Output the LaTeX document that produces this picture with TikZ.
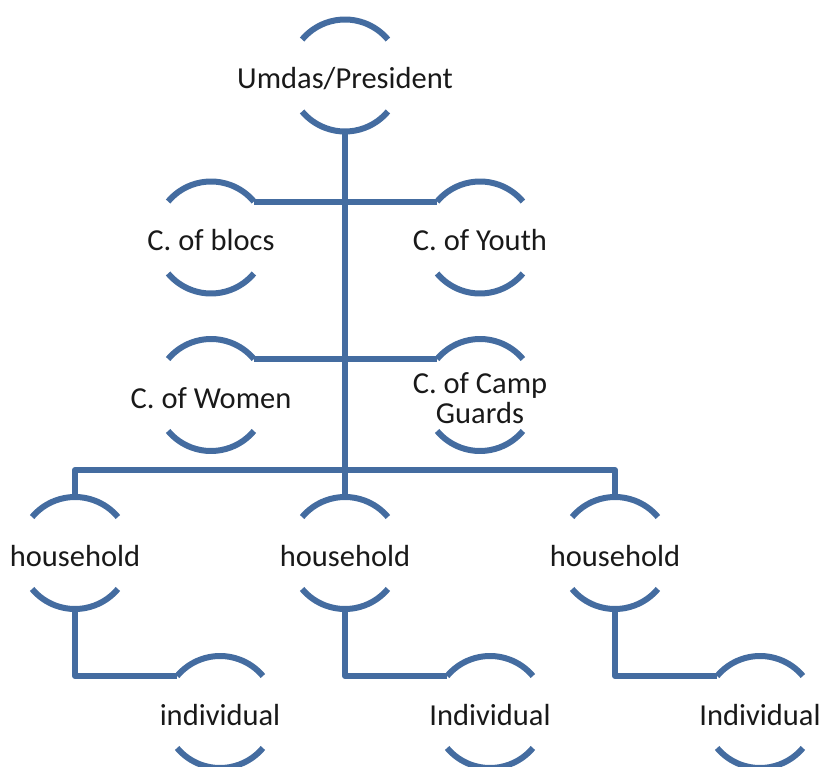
\documentclass[tikz,border=0pt]{standalone}
\usepackage{fontspec}
\setmainfont{Carlito}
\usetikzlibrary{calc}
\definecolor{lineblue}{RGB}{68,108,160}
\begin{document}
\begin{tikzpicture}[x=1pt,y=1pt,
  ring/.style={circle, minimum size=112pt, inner sep=0pt, outer sep=0pt},
  every label/.style={font=\fontsize{30.5}{30}\selectfont, text=black!90, align=center, inner sep=0pt, yshift=-3pt},
  link/.style={draw=lineblue, line width=6pt, line join=round}]
\useasboundingbox (0,0) rectangle (822,-767);
\node[ring, label={center:Umdas/President}] (top) at (345,-75.5) {};
\node[ring, label={center:C. of blocs}] (blocs) at (211,-237.5) {};
\node[ring, label={center:C. of Youth}] (youth) at (480,-237.5) {};
\node[ring, label={center:C. of Women}] (women) at (211,-395) {};
\node[ring, label={center:C. of Camp\\Guards}] (guards) at (480,-395) {};
\node[ring, label={center:household}] (hh1) at (75,-553) {};
\node[ring, label={center:household}] (hh2) at (345,-553) {};
\node[ring, label={center:household}] (hh3) at (615,-553) {};
\node[ring, label={center:individual}] (ind1) at (220,-712) {};
\node[ring, label={center:Individual}] (ind2) at (490,-712) {};
\node[ring, label={center:Individual}] (ind3) at (760,-712) {};
\foreach \n in {top,blocs,youth,women,guards,hh1,hh2,hh3,ind1,ind2,ind3} {
  \draw[link] (\n.40) arc[start angle=40, end angle=140, radius=56pt];
  \draw[link] (\n.220) arc[start angle=220, end angle=320, radius=56pt];
}
\coordinate (bus) at (0,-470);
\draw[link] (top.270) -- (hh2.90);
\draw[link] (blocs.40) -- (youth.140);
\draw[link] (women.40) -- (guards.140);
\draw[link] (hh1.90) -- (hh1.90 |- bus) -- (hh3.90 |- bus) -- (hh3.90);
\draw[link] (hh1.270) |- (ind1.140);
\draw[link] (hh2.270) |- (ind2.140);
\draw[link] (hh3.270) |- (ind3.140);
\end{tikzpicture}
\end{document}
